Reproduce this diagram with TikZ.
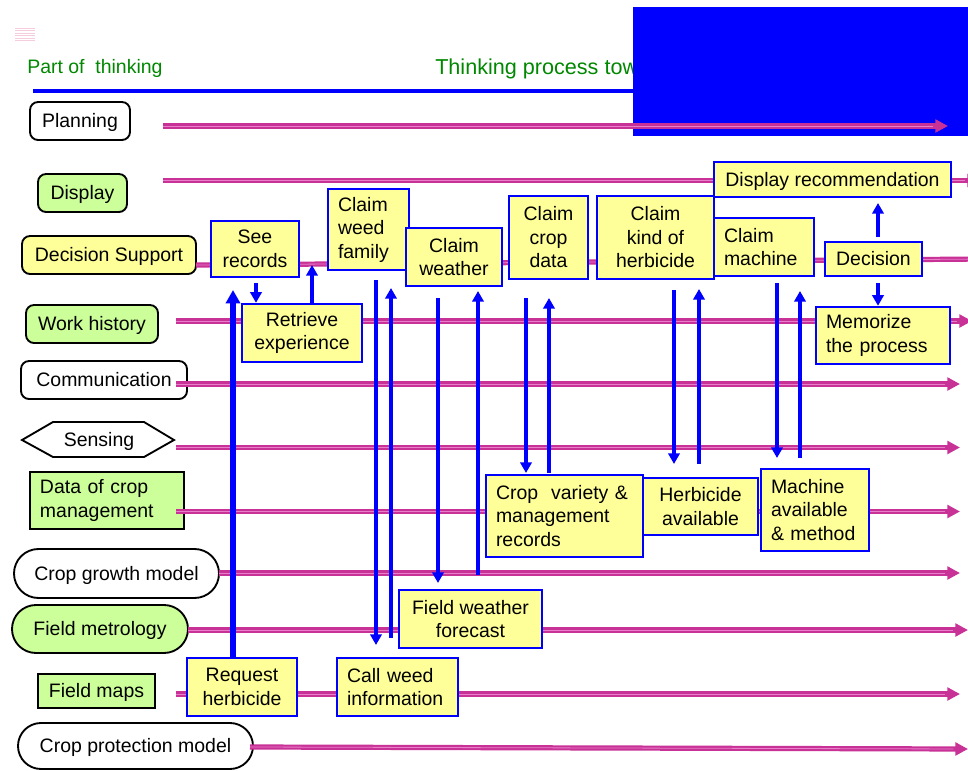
\documentclass[tikz,border=0pt]{standalone}
\usepackage{fontspec}
\setmainfont{Liberation Sans}
\usetikzlibrary{arrows.meta,shapes.misc}

\definecolor{boxyellow}{RGB}{255,255,153}
\definecolor{boxgreen}{RGB}{204,255,153}
\definecolor{lanedark}{RGB}{200,50,150}
\definecolor{lanelight}{RGB}{232,125,202}
\definecolor{headgreen}{RGB}{0,136,0}
\definecolor{pureblue}{RGB}{0,0,255}
\definecolor{faintpink}{RGB}{246,205,222}

\tikzset{
  every node/.style={font=\fontsize{14.6pt}{17.6pt}\selectfont, inner sep=0pt},
  oneline/.style={text height=13.2pt, text depth=3.1pt},
  headtext/.style={text=headgreen},
  lbl/.style={draw=black, line width=1.4pt, rounded corners=6pt},
  sqlbl/.style={draw=black, line width=1.4pt},
  stad/.style={shape=rounded rectangle, draw=black, line width=1.4pt},
  ybox/.style={draw=pureblue, line width=1.8pt, fill=boxyellow},
  lanebase/.style={draw=lanedark, line width=3.9pt, -{Triangle[length=9.5pt,width=9.5pt]}},
  lanemid/.style={draw=lanelight, line width=0.6pt, shorten >=11pt},
  blarrow/.style={draw=pureblue, line width=3pt, -{Triangle[length=8pt,width=8.5pt]}},
  bigarrow/.style={draw=pureblue, line width=4.2pt, -{Triangle[length=10pt,width=10.5pt]}},
}

% box given by its pixel corners, text centred
\newcommand\boxc[7]{%
  \pgfmathsetlengthmacro\bxw{(#5-#3)*0.75pt}%
  \pgfmathsetlengthmacro\bxh{(#6-#4)*0.75pt}%
  \node[#1, align=center, minimum width=\bxw, minimum height=\bxh] (#2) at ({(#3+#5)/2},{(#4+#6)/2}) {#7};}
% box given by its pixel corners, text set flush left
\newcommand\boxl[7]{%
  \pgfmathsetlengthmacro\bxw{(#5-#3)*0.75pt}%
  \pgfmathsetlengthmacro\bxh{(#6-#4)*0.75pt}%
  \pgfmathsetlengthmacro\bxt{(#5-#3)*0.75pt-15pt}%
  \node[#1, align=left, text width=\bxt, inner xsep=7.5pt, minimum width=\bxw, minimum height=\bxh] (#2) at ({(#3+#5)/2},{(#4+#6)/2}) {#7};}
% one swim-lane arrow
\newcommand\lane[2]{\draw[lanebase] (#1) -- (#2); \draw[lanemid] (#1) -- (#2);}

\begin{document}
\begin{tikzpicture}[x=0.75pt,y=-0.75pt]
\clip (0,0) rectangle (968,771);
\fill[white] (0,0) rectangle (968,771);

% small faint mark, top left
\foreach \yy in {28,30.5,33,35.5,38,40.5}
  \draw[faintpink, line width=0.6pt] (15,\yy) -- (35,\yy);

% header
\node[headtext, oneline, anchor=west] (part) at (27,67) {Part of\ \ thinking};
\node[headtext, anchor=west, font=\fontsize{16.2pt}{19pt}\selectfont, text height=14.6pt, text depth=3.4pt] (proc) at (435,67) {Thinking process tow};
\coordinate (hlS) at (33,91);
\coordinate (hlE) at (700,91);
\draw[pureblue, line width=3pt] (hlS) -- (hlE);
\fill[pureblue] (633,7) rectangle (975,136);

% lane labels
\boxc{lbl, oneline, fill=white}{plan}{30}{102}{130}{140}{Planning}
\boxc{lbl, oneline, fill=boxgreen}{disp}{38}{174}{127}{212}{Display}
\boxc{lbl, oneline, fill=boxyellow}{dsup}{22}{236}{196}{274}{Decision Support}
\boxc{lbl, oneline, fill=boxgreen}{whist}{26}{305}{158}{343}{Work history}
\boxc{lbl, oneline, fill=white}{comm}{21}{361}{187}{399}{Communication}
\draw[line width=1.4pt, fill=white] (22,440) -- (53,422) -- (144,422) -- (174,440) -- (144,457) -- (53,457) -- cycle;
\node[oneline] (sens) at (99,440) {Sensing};
\boxl{sqlbl, fill=boxgreen}{dcrop}{30}{472}{184}{529}{Data of crop\\management}
\boxc{stad, oneline, fill=white}{cgm}{14}{549}{219}{598}{Crop growth model}
\boxc{stad, oneline, fill=boxgreen}{fmet}{12}{605}{188}{653}{Field metrology}
\boxc{sqlbl, oneline, fill=boxgreen}{fmap}{38}{674}{155}{708}{Field maps}
\boxc{stad, oneline, fill=white}{cpm}{18}{723}{253}{769}{Crop protection model}

% lanes
\coordinate (plS) at (163,126);   \coordinate (plE) at (948,126);
\coordinate (dpS) at (163,180.5); \coordinate (dpE) at (980,180.5);
\coordinate (dsS) at (196,265);   \coordinate (dsE) at (986,259);
\coordinate (whS) at (176,321);   \coordinate (whE) at (972,321);
\coordinate (cmS) at (176,384);   \coordinate (cmE) at (960,384);
\coordinate (snS) at (176,447.5); \coordinate (snE) at (960,447.5);
\coordinate (dcS) at (176,511.5); \coordinate (dcE) at (960,511.5);
\coordinate (cgS) at (219,573);   \coordinate (cgE) at (960,573);
\coordinate (fmS) at (188,630);   \coordinate (fmE) at (968,630);
\coordinate (fpS) at (176,694);   \coordinate (fpE) at (960,694);
\coordinate (cpS) at (250,747);   \coordinate (cpE) at (968,749);
\lane{plS}{plE}
\lane{dpS}{dpE}
\lane{dsS}{dsE}
\lane{whS}{whE}
\lane{cmS}{cmE}
\lane{snS}{snE}
\lane{dcS}{dcE}
\lane{cgS}{cgE}
\lane{fmS}{fmE}
\lane{fpS}{fpE}
\lane{cpS}{cpE}

% process steps
\boxc{ybox, oneline}{drec}{714}{162}{951}{197}{Display recommendation}
\boxc{ybox}{seer}{211}{221}{299}{277}{See\\records}
\boxc{ybox}{retr}{242}{304}{362}{362}{Retrieve\\experience}
\boxl{ybox}{cwf}{328}{189}{409}{270}{Claim\\weed\\family}
\boxc{ybox}{cwea}{406}{228}{502}{286}{Claim\\weather}
\boxc{ybox}{ccd}{509}{196}{588}{279}{Claim\\crop\\data}
\boxc{ybox}{ckh}{597}{196}{714}{279}{Claim\\kind of\\herbicide}
\boxl{ybox}{cmac}{714}{218}{814}{276}{Claim\\machine}
\boxc{ybox, oneline}{deci}{825}{242}{922}{276}{Decision}
\boxl{ybox}{memo}{816}{307}{950}{364}{Memorize\\the process}
\boxl{ybox}{cvar}{486}{475}{643}{557}{Crop\ \ variety \&\\management\\records}
\boxc{ybox}{hava}{643}{478}{758}{535}{Herbicide\\available}
\boxl{ybox}{mava}{761}{469}{869}{551}{Machine\\available\\\& method}
\boxc{ybox}{fwf}{399}{590}{542}{648}{Field weather\\forecast}
\boxc{ybox}{reqh}{187}{658}{297}{716}{Request\\herbicide}
\boxl{ybox}{cwi}{337}{658}{458}{716}{Call weed\\information}

% information flow
\coordinate (a1e) at (233,290);
\draw[bigarrow] (a1e |- reqh.north) -- (a1e);
\coordinate (a2s) at (256,283);
\draw[blarrow] (a2s) -- (a2s |- retr.north);
\coordinate (a3e) at (312,265);
\draw[blarrow] (a3e |- retr.north) -- (a3e);
\coordinate (a4s) at (376,280); \coordinate (a4e) at (376,645);
\draw[blarrow] (a4s) -- (a4e);
\coordinate (a5s) at (391,638); \coordinate (a5e) at (391,288);
\draw[blarrow] (a5s) -- (a5e);
\coordinate (a6s) at (438,298); \coordinate (a6e) at (438,583);
\draw[blarrow] (a6s) -- (a6e);
\coordinate (a7s) at (478,575); \coordinate (a7e) at (478,291);
\draw[blarrow] (a7s) -- (a7e);
\coordinate (a8s) at (526,298); \coordinate (a8e) at (526,473);
\draw[blarrow] (a8s) -- (a8e);
\coordinate (a9s) at (549,473); \coordinate (a9e) at (549,298);
\draw[blarrow] (a9s) -- (a9e);
\coordinate (a10s) at (674,290); \coordinate (a10e) at (674,464);
\draw[blarrow] (a10s) -- (a10e);
\coordinate (a11s) at (699,464); \coordinate (a11e) at (699,289);
\draw[blarrow] (a11s) -- (a11e);
\coordinate (a12s) at (777,283); \coordinate (a12e) at (777,458);
\draw[blarrow] (a12s) -- (a12e);
\coordinate (a13s) at (800,458); \coordinate (a13e) at (800,291);
\draw[blarrow] (a13s) -- (a13e);
\coordinate (a14s) at (878,237); \coordinate (a14e) at (878,203);
\draw[blarrow] (a14s) -- (a14e);
\coordinate (a15s) at (878,283);
\draw[blarrow] (a15s) -- (a15s |- memo.north);
\end{tikzpicture}
\end{document}
